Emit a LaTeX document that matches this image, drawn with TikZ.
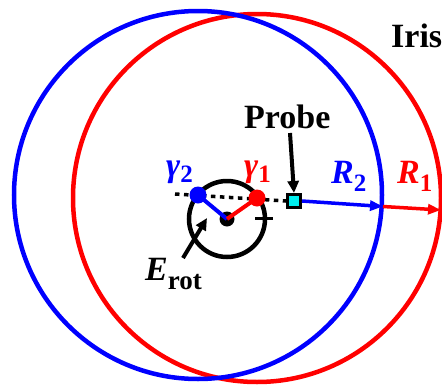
\documentclass[tikz,border=0pt]{standalone}
\usepackage{fontspec}
\setmainfont{Liberation Serif}
\usetikzlibrary{arrows.meta}
\definecolor{probecyan}{RGB}{0,240,240}
\definecolor{pblue}{RGB}{0,0,255}
\definecolor{pred}{RGB}{255,0,0}
\begin{document}
\begin{tikzpicture}[x=1pt,y=-1pt,
  bigcirc/.style={line width=4.5pt},
  dot/.style={circle,inner sep=0pt,minimum size=17pt},
  probebox/.style={draw=black,fill=probecyan,line width=3pt,minimum size=13pt,inner sep=0pt},
  dotline/.style={line width=3.5pt,dash pattern=on 4.5pt off 4.5pt},
  arr/.style={line width=4pt,-{Triangle[length=12pt,width=11pt]}},
  lbl/.style={font=\fontsize{34}{38}\selectfont\bfseries,inner sep=0pt}]
\useasboundingbox (0,0) rectangle (442,386);
% circles
\draw[pred,bigcirc] (257,198) circle[radius=184];
\draw[pblue,bigcirc] (198,195) circle[radius=184];
% coordinates
\coordinate (c2) at (198,195);
\coordinate (c1) at (257,198);
\coordinate (dl) at (175,194);
\coordinate (b2) at (383,206.5);
\coordinate (b1) at (441,210);
\coordinate (ea) at (207,218);
\coordinate (es) at (183,258);
\coordinate (ps) at (290,133);
% dotted line
\node[probebox] (probe) at (294,201) {};
\draw[dotline] (dl) -- (probe.west);
% small rotation circle
\node[draw,circle,line width=4.5pt,minimum size=76pt,inner sep=0pt] (rot) at (227,219) {};
\node[dot,fill=black,minimum size=15pt] (ctr) at (227,219) {};
\draw[pblue,line width=4pt] (c2) -- (ctr.center);
\draw[pred,line width=4pt] (ctr.center) -- (c1);
\node[dot,fill=pblue] (g2) at (c2) {};
\node[dot,fill=pred] (g1) at (c1) {};
% plus sign
\coordinate (plus) at (264,218);
\draw[line width=3pt] ([xshift=-9pt]plus) -- ([xshift=9pt]plus)
      ([yshift=-5pt]plus) -- ([yshift=5pt]plus);
% radius arrows
\draw[pblue,line width=3.5pt,-{Triangle[length=13pt,width=10pt]}] (probe.east) -- (b2);
\draw[pred,line width=3.5pt,-{Triangle[length=13pt,width=10pt]}] (b2) -- (b1);
% labels
\node[lbl,anchor=base west] (iris) at (391,47) {Iris};
\node[lbl,anchor=base west] (probelbl) at (244,128) {Probe};
\draw[arr] (ps) -- (probe.north);
\node[lbl,pblue,anchor=base west] (g2l) at (166,176) {\itshape γ\raisebox{-6pt}{\upshape\fontsize{25}{25}\selectfont 2}};
\node[lbl,pred,anchor=base west] (g1l) at (244,176) {\itshape γ\raisebox{-6pt}{\upshape\fontsize{25}{25}\selectfont 1}};
\node[lbl,pblue,anchor=base west] (r2l) at (331,183) {\itshape R\raisebox{-8pt}{\upshape\fontsize{25}{25}\selectfont 2}};
\node[lbl,pred,anchor=base west] (r1l) at (397,183) {\itshape R\raisebox{-8pt}{\upshape\fontsize{25}{25}\selectfont 1}};
\node[lbl,anchor=base west] (erot) at (145,280) {\itshape E\raisebox{-9pt}{\upshape\fontsize{27}{27}\selectfont rot}};
\draw[arr] (es) -- (ea);
\end{tikzpicture}
\end{document}
